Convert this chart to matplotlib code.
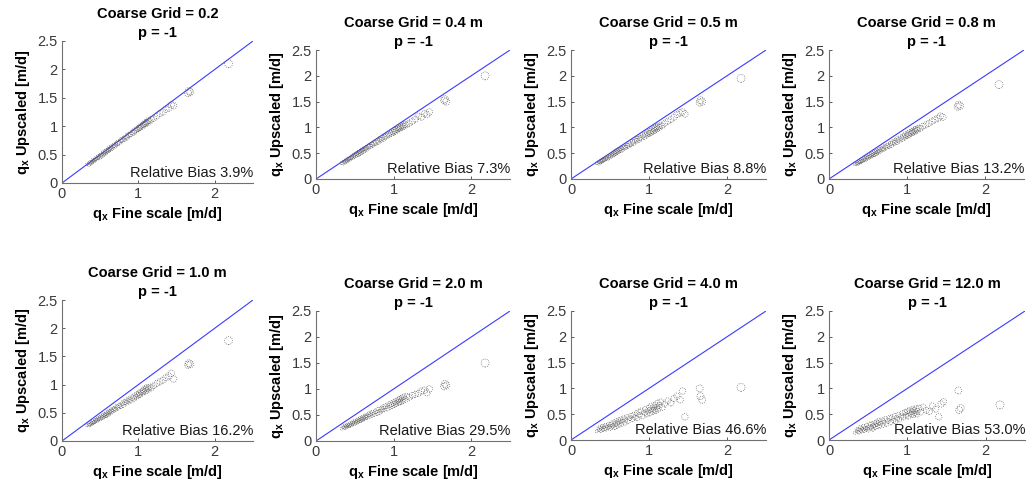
import matplotlib
matplotlib.use("Agg")
import matplotlib.pyplot as plt

plt.rcParams['font.family'] = ['Liberation Sans', 'DejaVu Sans']
plt.rcParams['mathtext.fontset'] = 'custom'
plt.rcParams['mathtext.rm'] = 'Liberation Sans:bold'
plt.rcParams['mathtext.it'] = 'Liberation Sans:bold'
plt.rcParams['mathtext.bf'] = 'Liberation Sans:bold'

titles = ["Coarse Grid = 0.2", "Coarse Grid = 0.4 m", "Coarse Grid = 0.5 m", "Coarse Grid = 0.8 m",
          "Coarse Grid = 1.0 m", "Coarse Grid = 2.0 m", "Coarse Grid = 4.0 m", "Coarse Grid = 12.0 m"]
p_label = "p = -1"
bias = ["3.9%", "7.3%", "8.8%", "13.2%", "16.2%", "29.5%", "46.6%", "53.0%"]

fine = [0.33, 0.35, 0.36, 0.37, 0.38, 0.39, 0.40, 0.41, 0.42, 0.43,
        0.44, 0.45, 0.46, 0.47, 0.48, 0.49, 0.50, 0.51, 0.52, 0.53,
        0.54, 0.55, 0.56, 0.57, 0.58, 0.59, 0.60, 0.61, 0.62, 0.63,
        0.64, 0.65, 0.66, 0.68, 0.69, 0.70, 0.72, 0.73, 0.75, 0.77,
        0.79, 0.80, 0.82, 0.84, 0.85, 0.87, 0.88, 0.90, 0.92, 0.94,
        0.95, 0.97, 0.98, 1.00, 1.01, 1.02, 1.03, 1.05, 1.06, 1.07,
        1.08, 1.09, 1.10, 1.11, 1.12, 1.13, 1.15, 1.17, 1.20, 1.24,
        1.28, 1.32, 1.36, 1.40, 1.43, 1.46, 1.65, 1.66, 1.68, 2.18]

up_02 = [0.33, 0.32, 0.36, 0.34, 0.37, 0.36, 0.40, 0.38, 0.41, 0.40,
         0.43, 0.42, 0.45, 0.44, 0.47, 0.45, 0.49, 0.47, 0.51, 0.49,
         0.53, 0.51, 0.55, 0.53, 0.57, 0.55, 0.59, 0.57, 0.61, 0.59,
         0.63, 0.61, 0.64, 0.66, 0.65, 0.68, 0.69, 0.71, 0.71, 0.75,
         0.75, 0.78, 0.78, 0.82, 0.80, 0.84, 0.85, 0.86, 0.89, 0.89,
         0.92, 0.93, 0.95, 0.95, 0.98, 0.97, 1.00, 1.00, 1.03, 1.02,
         1.05, 1.04, 1.07, 1.05, 1.08, 1.10, 1.09, 1.12, 1.14, 1.18,
         1.22, 1.25, 1.30, 1.32, 1.38, 1.36, 1.58, 1.62, 1.60, 2.10]
up_04 = [0.31, 0.30, 0.34, 0.32, 0.36, 0.34, 0.38, 0.36, 0.39, 0.38,
         0.41, 0.40, 0.43, 0.41, 0.45, 0.43, 0.47, 0.45, 0.49, 0.47,
         0.51, 0.48, 0.53, 0.50, 0.55, 0.52, 0.57, 0.54, 0.59, 0.56,
         0.60, 0.58, 0.62, 0.62, 0.65, 0.63, 0.67, 0.66, 0.70, 0.70,
         0.74, 0.72, 0.77, 0.76, 0.80, 0.78, 0.82, 0.82, 0.86, 0.85,
         0.89, 0.88, 0.92, 0.90, 0.94, 0.92, 0.96, 0.95, 0.99, 0.97,
         1.01, 0.99, 1.03, 1.00, 1.04, 1.02, 1.06, 1.05, 1.08, 1.12,
         1.16, 1.22, 1.20, 1.27, 1.25, 1.30, 1.52, 1.55, 1.50, 2.00]
up_05 = [0.31, 0.30, 0.33, 0.32, 0.35, 0.33, 0.37, 0.35, 0.38, 0.37,
         0.40, 0.39, 0.42, 0.40, 0.44, 0.42, 0.46, 0.44, 0.48, 0.46,
         0.50, 0.47, 0.52, 0.49, 0.54, 0.51, 0.56, 0.53, 0.57, 0.55,
         0.59, 0.56, 0.61, 0.60, 0.63, 0.61, 0.65, 0.64, 0.68, 0.67,
         0.72, 0.70, 0.75, 0.74, 0.78, 0.76, 0.80, 0.79, 0.84, 0.82,
         0.87, 0.85, 0.90, 0.88, 0.92, 0.89, 0.94, 0.92, 0.97, 0.94,
         0.99, 0.96, 1.01, 0.98, 1.02, 1.00, 1.04, 1.03, 1.08, 1.12,
         1.15, 1.20, 1.25, 1.28, 1.30, 1.26, 1.48, 1.53, 1.50, 1.95]
up_08 = [0.29, 0.29, 0.31, 0.30, 0.33, 0.32, 0.35, 0.33, 0.36, 0.35,
         0.38, 0.37, 0.40, 0.38, 0.42, 0.40, 0.43, 0.42, 0.45, 0.44,
         0.47, 0.45, 0.49, 0.47, 0.51, 0.48, 0.53, 0.50, 0.54, 0.52,
         0.56, 0.54, 0.58, 0.57, 0.60, 0.58, 0.63, 0.61, 0.65, 0.64,
         0.69, 0.66, 0.71, 0.70, 0.74, 0.72, 0.77, 0.75, 0.80, 0.78,
         0.83, 0.81, 0.86, 0.84, 0.88, 0.85, 0.90, 0.88, 0.92, 0.90,
         0.94, 0.91, 0.96, 0.93, 0.97, 0.95, 0.99, 0.98, 1.02, 1.05,
         1.08, 1.12, 1.15, 1.18, 1.22, 1.20, 1.40, 1.44, 1.42, 1.83]
up_10 = [0.28, 0.28, 0.30, 0.29, 0.32, 0.31, 0.34, 0.32, 0.35, 0.34,
         0.37, 0.36, 0.39, 0.37, 0.40, 0.39, 0.42, 0.40, 0.44, 0.42,
         0.46, 0.43, 0.47, 0.45, 0.49, 0.46, 0.51, 0.48, 0.52, 0.50,
         0.54, 0.52, 0.56, 0.55, 0.58, 0.56, 0.61, 0.59, 0.63, 0.62,
         0.67, 0.64, 0.69, 0.68, 0.72, 0.70, 0.74, 0.72, 0.77, 0.75,
         0.80, 0.78, 0.83, 0.81, 0.85, 0.82, 0.87, 0.85, 0.90, 0.88,
         0.92, 0.88, 0.94, 0.90, 0.95, 0.92, 0.96, 0.94, 0.98, 1.02,
         1.05, 1.08, 1.12, 1.15, 1.20, 1.10, 1.35, 1.38, 1.36, 1.78]
up_20 = [0.24, 0.27, 0.25, 0.29, 0.26, 0.30, 0.28, 0.31, 0.29, 0.32,
         0.30, 0.34, 0.31, 0.35, 0.33, 0.37, 0.34, 0.38, 0.36, 0.40,
         0.37, 0.41, 0.39, 0.43, 0.40, 0.44, 0.42, 0.46, 0.43, 0.47,
         0.45, 0.49, 0.46, 0.51, 0.48, 0.53, 0.50, 0.55, 0.52, 0.57,
         0.54, 0.60, 0.56, 0.62, 0.59, 0.65, 0.61, 0.67, 0.63, 0.70,
         0.66, 0.72, 0.68, 0.74, 0.70, 0.76, 0.72, 0.78, 0.74, 0.80,
         0.75, 0.81, 0.76, 0.83, 0.78, 0.85, 0.80, 0.86, 0.84, 0.88,
         0.90, 0.92, 0.96, 0.98, 0.93, 1.00, 1.05, 1.10, 1.07, 1.50]
up_40 = [0.17, 0.22, 0.19, 0.25, 0.18, 0.23, 0.27, 0.20, 0.26, 0.22,
         0.29, 0.21, 0.27, 0.24, 0.31, 0.26, 0.22, 0.30, 0.33, 0.25,
         0.28, 0.35, 0.24, 0.31, 0.37, 0.27, 0.33, 0.39, 0.29, 0.36,
         0.41, 0.31, 0.37, 0.43, 0.33, 0.39, 0.45, 0.36, 0.42, 0.47,
         0.40, 0.49, 0.44, 0.52, 0.42, 0.55, 0.48, 0.57, 0.46, 0.53,
         0.60, 0.50, 0.56, 0.63, 0.52, 0.59, 0.66, 0.55, 0.62, 0.58,
         0.68, 0.57, 0.64, 0.72, 0.60, 0.67, 0.74, 0.63, 0.70, 0.76,
         0.72, 0.80, 0.85, 0.78, 0.95, 0.45, 1.00, 0.85, 0.78, 1.02]
up_120 = [0.14, 0.19, 0.16, 0.22, 0.15, 0.20, 0.25, 0.17, 0.23, 0.19,
          0.27, 0.18, 0.24, 0.21, 0.29, 0.22, 0.19, 0.26, 0.31, 0.23,
          0.25, 0.32, 0.21, 0.28, 0.34, 0.24, 0.30, 0.36, 0.26, 0.33,
          0.38, 0.27, 0.33, 0.39, 0.29, 0.35, 0.41, 0.31, 0.37, 0.43,
          0.34, 0.44, 0.38, 0.47, 0.36, 0.42, 0.49, 0.40, 0.46, 0.52,
          0.44, 0.54, 0.48, 0.56, 0.46, 0.52, 0.58, 0.50, 0.55, 0.60,
          0.49, 0.57, 0.53, 0.61, 0.50, 0.56, 0.62, 0.54, 0.64, 0.58,
          0.55, 0.66, 0.60, 0.45, 0.70, 0.74, 0.96, 0.58, 0.62, 0.68]

upscaled = [up_02, up_04, up_05, up_08, up_10, up_20, up_40, up_120]
for arr in upscaled:
    assert len(arr) == len(fine)

W, H = 1036, 496
fig = plt.figure(figsize=(W / 100, H / 100), dpi=100)

# axes boxes in pixels: left, right, top, bottom
boxes = [(62, 253, 41, 183), (316, 510, 50, 179), (571, 766, 50, 179), (829, 1024, 50, 179),
         (62, 253, 300, 441), (316, 510, 311, 441), (571, 766, 311, 440), (829, 1025, 311, 440)]

grey = '#404040'
for i, (l, r, t, b) in enumerate(boxes):
    ax = fig.add_axes([l / W, 1 - b / H, (r - l) / W, (b - t) / H])
    ax.set_xlim(0, 2.5)
    ax.set_ylim(0, 2.5)
    ax.plot([0, 2.5], [0, 2.5], color='#3a3aff', lw=0.8, zorder=1)
    sizes = [15 * v for v in fine]
    ax.scatter(fine, upscaled[i], s=sizes, facecolors='none', edgecolors='#5a5a5a',
               linewidths=0.55, linestyles=':', zorder=2)
    ax.set_xticks([0, 1, 2])
    ax.set_yticks([0, 0.5, 1, 1.5, 2, 2.5])
    ax.set_yticklabels(['0', '0.5', '1', '1.5', '2', '2.5'])
    ax.tick_params(direction='in', length=2, width=0.6, colors=grey, labelsize=10.5,
                   labelcolor='#3a3a3a', pad=3)
    for s in ['top', 'right']:
        ax.spines[s].set_visible(False)
    for s in ['left', 'bottom']:
        ax.spines[s].set_color('#707070')
        ax.spines[s].set_linewidth(0.8)
    ax.set_title(titles[i] + "\n" + p_label, fontsize=10.5, fontweight='bold',
                 pad=3, linespacing=1.45)
    ax.set_xlabel(r"$\mathbf{q_x}$ Fine scale [m/d]", fontsize=10.5, fontweight='bold', labelpad=3)
    ax.set_ylabel(r"$\mathbf{q_x}$ Upscaled [m/d]", fontsize=10.5, fontweight='bold', labelpad=4)
    ax.text(2.5, 0.05, "Relative Bias " + bias[i], ha='right', va='bottom', fontsize=10.5,
            color='#1a1a1a')

fig.savefig("out.png", dpi=100)
